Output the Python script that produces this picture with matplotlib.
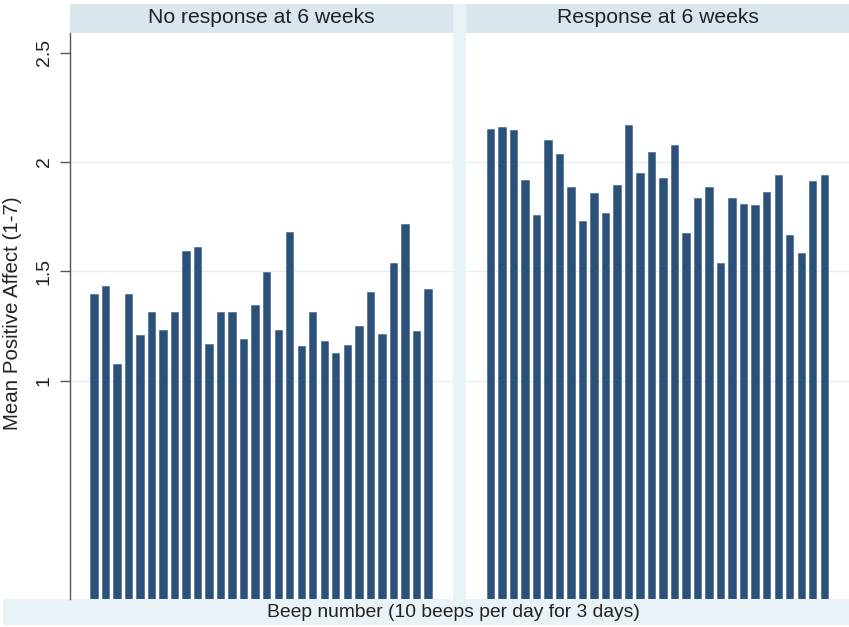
import matplotlib
matplotlib.use("Agg")
import matplotlib.pyplot as plt
from matplotlib.patches import Rectangle
import numpy as np

plt.rcParams['font.family'] = ['Liberation Sans', 'DejaVu Sans']

# mean positive affect per beep, 30 beeps (10 a day for 3 days)
beeps = np.arange(1, 31)
no_response = [1.397, 1.431, 1.075, 1.394, 1.209, 1.313, 1.232, 1.313, 1.591, 1.611,
               1.168, 1.313, 1.313, 1.188, 1.345, 1.495, 1.230, 1.681, 1.157, 1.313,
               1.179, 1.127, 1.162, 1.251, 1.406, 1.215, 1.536, 1.715, 1.226, 1.418]
response = [2.151, 2.160, 2.144, 1.916, 1.756, 2.101, 2.034, 1.887, 1.728, 1.858,
            1.768, 1.895, 2.168, 1.948, 2.043, 1.927, 2.077, 1.675, 1.835, 1.887,
            1.537, 1.837, 1.809, 1.802, 1.864, 1.939, 1.666, 1.585, 1.913, 1.939]
panel_titles = ["No response at 6 weeks", "Response at 6 weeks"]
yticks = [1, 1.5, 2, 2.5]

W, H = 849, 627
bar_col = "#2b5079"
strip_col = "#d9e6ee"
outer_col = "#e9f2f6"
grid_col = "#e4edf2"
txt_col = "#222222"

fig = plt.figure(figsize=(W / 100, H / 100), dpi=100)
fig.patch.set_facecolor("white")


def px_rect(x0, y0, x1, y1, color):
    # rectangle given in pixel coords (origin top-left)
    fig.add_artist(Rectangle((x0 / W, 1 - y1 / H), (x1 - x0) / W, (y1 - y0) / H,
                             transform=fig.transFigure, facecolor=color,
                             edgecolor="none", zorder=0))


# light background pieces: bottom band, gap between panels, header strips
px_rect(3, 599.3, W, 624.5, outer_col)
px_rect(452.7, 4, 466, 599.3, outer_col)
px_rect(69.5, 4, 452.7, 33.3, strip_col)
px_rect(466, 4, W, 33.3, strip_col)

panels = [(69.5, 452.7), (466, W)]
data = [no_response, response]
axes = []
for k, ((x0, x1), vals) in enumerate(zip(panels, data)):
    ax = fig.add_axes([x0 / W, 1 - 599.3 / H, (x1 - x0) / W, (599.3 - 33.3) / H])
    ax.set_facecolor("white")
    ax.bar(beeps, vals, width=0.64, color=bar_col, edgecolor="#3d6088",
           linewidth=0.4, zorder=3)
    ax.set_xlim(-1.12, 32.15)
    ax.set_ylim(0, 2.588)
    for g in [1, 1.5, 2]:
        ax.axhline(g, color=grid_col, linewidth=1.0, zorder=1)
    ax.set_xticks([])
    ax.set_yticks(yticks)
    for s in ["top", "right", "bottom"]:
        ax.spines[s].set_visible(False)
    if k == 0:
        ax.spines["left"].set_color("#555555")
        ax.spines["left"].set_linewidth(1.0)
        ax.tick_params(axis="y", length=7, width=1.0, color="#555555",
                       labelsize=14, labelcolor=txt_col, pad=5)
        ax.set_yticklabels(["1", "1.5", "2", "2.5"], rotation=90, va="center")
    else:
        ax.spines["left"].set_visible(False)
        ax.tick_params(axis="y", length=0, labelleft=False)
    fig.text((x0 + x1) / 2 / W, 1 - 17.5 / H, panel_titles[k], ha="center",
             va="center", fontsize=15.2, color=txt_col)
    axes.append(ax)

fig.text(13 / W, 1 - 313 / H, "Mean Positive Affect (1-7)", rotation=90,
         ha="center", va="center", fontsize=14.8, color=txt_col)
fig.text(453 / W, 1 - 612.5 / H, "Beep number (10 beeps per day for 3 days)",
         ha="center", va="center", fontsize=13.9, color=txt_col)

fig.savefig("out.png", dpi=100)
